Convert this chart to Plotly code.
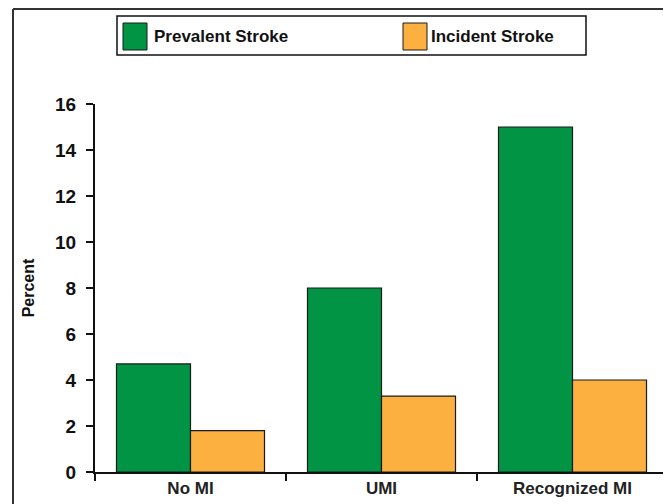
import plotly.graph_objects as go

categories = ["No MI", "UMI", "Recognized MI"]
prevalent_stroke = [4.7, 8.0, 15.0]
incident_stroke = [1.8, 3.3, 4.0]
series_names = ["Prevalent Stroke", "Incident Stroke"]
y_ticks = [0, 2, 4, 6, 8, 10, 12, 14, 16]

GREEN = "#009444"
ORANGE = "#FBB040"
FONT = "Arial, Liberation Sans, sans-serif"

# page offset (default body margin of the html page)
OFF = 8
W, H = 671 - OFF, 504 - OFF
# target screen positions of the plot area
SX0, SX1, SY0, SY1 = 95, 668, 104, 472
ML, MT = SX0 - OFF, SY0 - OFF
MR = W - (SX1 - OFF)
MB = H - (SY1 - OFF)
PW, PH = SX1 - SX0, SY1 - SY0


def px(x):
    return (x - SX0) / PW


def py(y):
    return (SY1 - y) / PH


fig = go.Figure()
fig.add_trace(go.Bar(x=categories, y=prevalent_stroke, name=series_names[0],
                     marker=dict(color=GREEN, line=dict(color="#1a1a1a", width=1.2))))
fig.add_trace(go.Bar(x=categories, y=incident_stroke, name=series_names[1],
                     marker=dict(color=ORANGE, line=dict(color="#1a1a1a", width=1.2))))

shapes = [
    # outer frame (left and top)
    dict(type="line", xref="paper", yref="paper", x0=px(13), x1=px(13), y0=py(9), y1=py(520),
         line=dict(color="#333333", width=2)),
    dict(type="line", xref="paper", yref="paper", x0=px(13), x1=px(690), y0=py(9), y1=py(9),
         line=dict(color="#333333", width=2)),
    # legend box
    dict(type="rect", xref="paper", yref="paper", x0=px(117), x1=px(586), y0=py(55), y1=py(16),
         line=dict(color="#111111", width=1.5), fillcolor="white"),
    dict(type="rect", xref="paper", yref="paper", x0=px(123), x1=px(147), y0=py(50), y1=py(23),
         line=dict(color="#1a1a1a", width=1), fillcolor=GREEN),
    dict(type="rect", xref="paper", yref="paper", x0=px(403), x1=px(427), y0=py(50), y1=py(23),
         line=dict(color="#1a1a1a", width=1), fillcolor=ORANGE),
]

annotations = [
    dict(text="<b>%s</b>" % series_names[0], xref="paper", yref="paper", x=px(152), y=py(37),
         xanchor="left", yanchor="middle", showarrow=False, font=dict(size=17, color="#111", family=FONT)),
    dict(text="<b>%s</b>" % series_names[1], xref="paper", yref="paper", x=px(429), y=py(37),
         xanchor="left", yanchor="middle", showarrow=False, font=dict(size=17, color="#111", family=FONT)),
]

fig.update_layout(
    width=W, height=H,
    margin=dict(l=ML, r=MR, t=MT, b=MB, pad=0),
    paper_bgcolor="white", plot_bgcolor="white",
    barmode="group", bargap=0.225, bargroupgap=0,
    showlegend=False,
    font=dict(family=FONT, color="#111"),
    shapes=shapes,
    annotations=annotations,
    xaxis=dict(
        type="category", tickson="boundaries", ticks="outside", ticklen=7, tickwidth=2,
        tickcolor="#111", showline=True, linecolor="#111", linewidth=2, showgrid=False,
        tickfont=dict(size=17, family=FONT, color="#222", weight="bold"),
        range=[-0.5, 2.5],
    ),
    yaxis=dict(
        range=[0, 16], tickvals=y_ticks, ticks="outside", ticklen=7, tickwidth=2,
        tickcolor="#111", showline=True, linecolor="#111", linewidth=2, showgrid=False,
        zeroline=False, tickfont=dict(size=19, family=FONT, color="#111", weight="bold"),
        ticklabelstandoff=6,
        title=dict(text="<b>Percent</b>", font=dict(size=16, family=FONT, color="#111"), standoff=16),
    ),
)

fig.write_html("out.html")
